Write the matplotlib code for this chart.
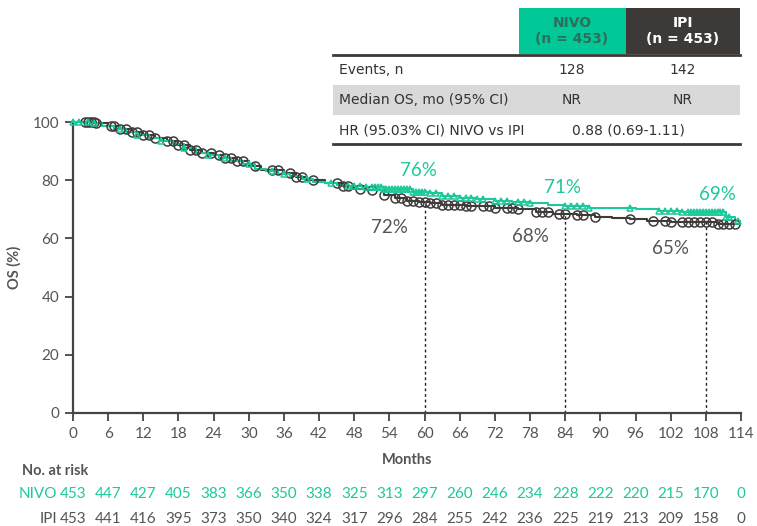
import numpy as np
import matplotlib
matplotlib.use("Agg")
import matplotlib.pyplot as plt
from matplotlib.patches import Rectangle

plt.rcParams['font.family'] = ['Lato', 'DejaVu Sans']

GREEN = "#1cc99a"
DARK = "#3f3b3a"
GREY = "#555555"

# KM step points (month, OS %)
nivo_t = [0, 2, 3, 5, 7, 9, 11, 13, 15, 17, 19, 21, 23, 25, 27, 29, 31, 33, 35, 37, 39, 41, 43,
          45, 47, 50, 53, 58, 61, 63, 66, 69, 72, 75, 78, 81, 84, 88, 96, 100, 104, 111.5, 113]
nivo_s = [100, 100, 99.5, 98.5, 97.5, 96.5, 95.5, 94.5, 93.5, 92.5, 91, 89.5, 88.5, 87.5, 86.5, 85.5,
          84, 83, 82, 81.5, 80.5, 79.5, 79, 78.5, 78, 77.5, 77, 76, 75.5, 74.5, 74, 73.5, 73, 72.5,
          72, 71.5, 71, 70.5, 70, 69.5, 69, 67.5, 66]
ipi_t = [0, 4, 6, 8, 10, 12, 14, 16, 18, 20, 22, 24, 26, 28, 30, 32, 36, 38, 40, 43, 46, 48, 50,
         53, 55, 57, 59, 61, 63, 67, 72, 76, 79, 82, 86, 89, 92, 95, 98, 102, 110]
ipi_s = [100, 99.5, 98.5, 97.5, 96.5, 95.5, 94.5, 93.5, 92, 90.5, 89.5, 88.5, 87.5, 86.5, 85, 83.5,
         82.5, 81, 80, 79, 78, 77, 76.5, 75, 74, 73, 72.5, 72, 71.5, 71, 70.5, 70, 69, 68.5, 68,
         67.5, 67, 66.5, 66, 65.5, 65]
end_time = 113.8

# censor times
nivo_cens = [0, 1, 2.5, 3.5, 8, 11, 15, 19, 23, 26, 30, 34, 36, 40, 44, 47, 48, 49, 50, 51, 51.5,
             52, 52.5, 53, 53.5, 54, 54.5, 55, 55.5, 56, 56.5, 57, 57.5, 58, 58.5, 59, 59.5, 60,
             61, 62, 63, 64, 65, 66, 67, 68, 69, 70, 72, 73, 74, 76, 77, 78, 84, 85, 86, 87, 88,
             95, 100, 101, 102, 103, 104, 105, 105.5, 106, 106.5, 107, 107.5, 108, 108.5, 109,
             109.5, 110, 110.5, 111, 111.5, 112, 113.5]
ipi_cens = [2, 2.5, 3, 3.5, 4, 6.5, 7, 8, 9, 10, 11, 12, 13, 14, 16, 17, 18, 19, 20, 21, 22, 23.5,
            25, 26, 27, 28, 29, 31, 34, 35, 37, 38, 39, 41, 45, 46, 47, 49, 51, 53, 55, 56, 57,
            58, 59, 60, 61, 62, 63, 64, 65, 66, 67, 68, 70, 71, 72, 74, 75, 76, 79, 80, 81, 83,
            84, 86, 87, 89, 95, 99, 101, 102, 104, 105, 106, 107, 108, 109, 110, 111, 112, 113]

landmarks = [60, 84, 108]
nivo_lab = ["76%", "71%", "69%"]
ipi_lab = ["72%", "68%", "65%"]

xticks = list(range(0, 115, 6))
nivo_risk = [453, 447, 427, 405, 383, 366, 350, 338, 325, 313, 297, 260, 246, 234, 228, 222, 220, 215, 170, 0]
ipi_risk = [453, 441, 416, 395, 373, 350, 340, 324, 317, 296, 284, 255, 242, 236, 225, 219, 213, 209, 158, 0]

tbl_rows = ["Events, n", "Median OS, mo (95% CI)", "HR (95.03% CI) NIVO vs IPI"]
tbl_nivo = ["128", "NR"]
tbl_ipi = ["142", "NR"]
tbl_hr = "0.88 (0.69-1.11)"


def surv_at(t, times, surv):
    i = np.searchsorted(times, t, side="right") - 1
    return np.asarray(surv)[i]


W, H = 757, 526
fig = plt.figure(figsize=(W / 100, H / 100), dpi=100)
ax = fig.add_axes([73 / W, 1 - 413 / H, (741 - 73) / W, (413 - 122) / H])

for times, surv, col, cens, mk, ms in [
        (ipi_t, ipi_s, DARK, ipi_cens, "o", 6.5),
        (nivo_t, nivo_s, GREEN, nivo_cens, "^", 5)]:
    tt = list(times) + [end_time]
    ss = list(surv) + [surv[-1]]
    ax.step(tt, ss, where="post", color=col, lw=1.5, clip_on=False, zorder=3)
    cy = surv_at(cens, times, surv)
    ax.plot(cens, cy, ls="none", marker=mk, ms=ms, mfc="none", mec=col, mew=1.1,
            clip_on=False, zorder=4)

for m in landmarks:
    ax.plot([m, m], [0, surv_at(m, ipi_t, ipi_s)], ls=(0, (2, 2)), color="#222222", lw=1, zorder=2)

for m, lab, dx, dy in zip(landmarks, nivo_lab, [-1, -0.5, 2], [4.5, 3.5, 3]):
    ax.text(m + dx, surv_at(m, nivo_t, nivo_s) + dy, lab, color=GREEN, fontsize=13.5,
            ha="center", va="bottom")
for m, lab, dx, dy in zip(landmarks, ipi_lab, [-6, -6, -6], [-6, -5, -6]):
    ax.text(m + dx, surv_at(m, ipi_t, ipi_s) + dy, lab, color=GREY, fontsize=13.5,
            ha="center", va="top")

ax.set_xlim(0, 114)
ax.set_ylim(0, 100)
ax.set_xticks(xticks)
ax.set_yticks(range(0, 101, 20))
ax.tick_params(colors="#444444", labelsize=11, length=6, width=1.3, labelcolor=GREY, pad=4)
for s in ["top", "right"]:
    ax.spines[s].set_visible(False)
for s in ["left", "bottom"]:
    ax.spines[s].set_color("#444444")
    ax.spines[s].set_linewidth(1.6)
ax.set_xlabel("Months", fontsize=10.5, fontweight="bold", color=GREY, labelpad=9)
ax.set_ylabel("OS (%)", fontsize=10.5, fontweight="bold", color=GREY, labelpad=8)

# number at risk
ov = fig.add_axes([0, 0, 1, 1])
ov.set_xlim(0, W)
ov.set_ylim(H, 0)
ov.axis("off")
ov.patch.set_alpha(0)

ov.text(22, 471, "No. at risk", fontsize=10.5, fontweight="bold", color=GREY, va="center")
xs = ax.transData.transform(np.column_stack([xticks, np.zeros(len(xticks))]))[:, 0]
ov.text(57, 494, "NIVO", fontsize=11, color=GREEN, ha="right", va="center")
ov.text(57, 519, "IPI", fontsize=11, color=GREY, ha="right", va="center")
for x, a, b in zip(xs, nivo_risk, ipi_risk):
    ov.text(x, 494, str(a), fontsize=11, color=GREEN, ha="center", va="center")
    ov.text(x, 519, str(b), fontsize=11, color=GREY, ha="center", va="center")

# table
TF = ['DejaVu Sans']
ov.add_patch(Rectangle((519, 8), 107, 46, color="#00c896", lw=0))
ov.add_patch(Rectangle((626, 8), 114, 46, color="#3d3937", lw=0))
ov.text(572, 31, "NIVO\n(n = 453)", fontsize=10, fontweight="bold", color="#2d6e5c",
        ha="center", va="center", linespacing=1.15, family=TF)
ov.text(683, 31, "IPI\n(n = 453)", fontsize=10, fontweight="bold", color="white",
        ha="center", va="center", linespacing=1.15, family=TF)
ov.add_patch(Rectangle((333, 85), 407, 30, color="#d9d9d9", lw=0))
ov.plot([333, 740], [54.5, 54.5], color="#3d3937", lw=2)
ov.plot([333, 740], [144, 144], color="#3d3937", lw=2)
for i, lab in enumerate(tbl_rows):
    y = 70 + 30 * i
    ov.text(339, y, lab, fontsize=10, color="#333333", va="center", family=TF)
for i, (a, b) in enumerate(zip(tbl_nivo, tbl_ipi)):
    y = 70 + 30 * i
    ov.text(572, y, a, fontsize=10, color="#333333", ha="center", va="center", family=TF)
    ov.text(683, y, b, fontsize=10, color="#333333", ha="center", va="center", family=TF)
ov.text(628, 130, tbl_hr, fontsize=10, color="#333333", ha="center", va="center", family=TF)

fig.savefig("out.png", dpi=100)
